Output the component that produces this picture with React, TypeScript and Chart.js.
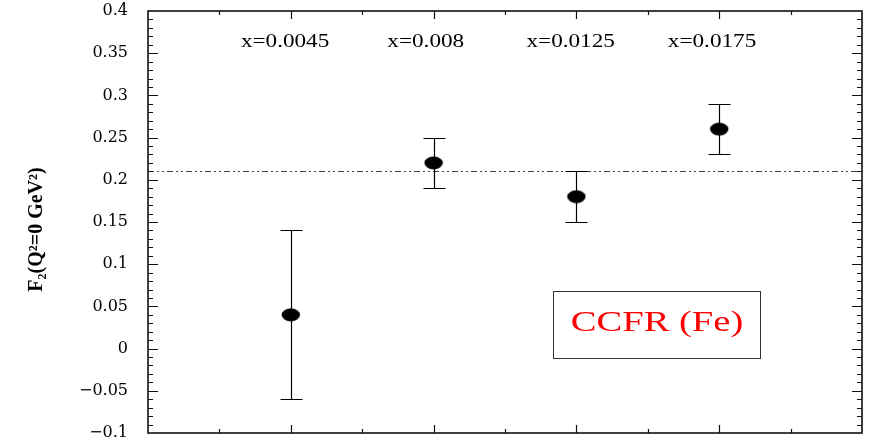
import { useEffect, useRef } from "react";
import { Chart, registerables } from "chart.js";

Chart.register(...registerables);

// ---- data ----
const xPositions = [2, 4, 6, 8];
const binLabels = ["x=0.0045", "x=0.008", "x=0.0125", "x=0.0175"];
const binLabelX = [1.92, 3.89, 5.92, 7.9];
const binLabelY = 0.363;
const f2Values = [0.04, 0.22, 0.18, 0.26];
const errLow = [-0.06, 0.19, 0.15, 0.23];
const errHigh = [0.14, 0.25, 0.21, 0.29];
const referenceLine = 0.21;
const yMin = -0.1;
const yMax = 0.4;
const yMajorStep = 0.05;
const yMinorStep = 0.01;
const xMin = 0;
const xMax = 10;
const boxText = "CCFR (Fe)";
const boxRange = { x0: 5.67, x1: 8.57, y0: 0.068, y1: -0.011 };
const axisTitle = "F\u2082(Q\u00B2=0 GeV\u00B2)";

const SERIF = "'Liberation Serif', 'Times New Roman', serif";
const WIDE_SERIF = "'DejaVu Serif', 'Liberation Serif', serif";

function makeMarker(): HTMLCanvasElement {
  const c = document.createElement("canvas");
  c.width = 20;
  c.height = 14;
  const g = c.getContext("2d")!;
  g.fillStyle = "#000";
  g.beginPath();
  g.ellipse(10, 7, 9.2, 6.4, 0, 0, Math.PI * 2);
  g.fill();
  return c;
}

function stretchedText(
  ctx: CanvasRenderingContext2D,
  text: string,
  cx: number,
  cy: number,
  font: string,
  color: string,
  sx: number
) {
  ctx.save();
  ctx.font = font;
  ctx.fillStyle = color;
  ctx.textAlign = "center";
  ctx.textBaseline = "middle";
  ctx.translate(cx, cy);
  ctx.scale(sx, 1);
  ctx.fillText(text, 0, 0);
  ctx.restore();
}

const decorPlugin = {
  id: "decor",
  beforeDatasetsDraw(chart: any) {
    const ctx: CanvasRenderingContext2D = chart.ctx;
    const xs = chart.scales.x;
    const ys = chart.scales.y;
    const ca = chart.chartArea;
    ctx.save();
    // reference dash-dot line
    ctx.strokeStyle = "#444";
    ctx.lineWidth = 1;
    ctx.setLineDash([6, 3, 2, 3, 2, 3]);
    const ry = Math.round(ys.getPixelForValue(referenceLine)) + 0.5;
    ctx.beginPath();
    ctx.moveTo(ca.left, ry);
    ctx.lineTo(ca.right, ry);
    ctx.stroke();
    ctx.setLineDash([]);

    // inner ticks y
    ctx.strokeStyle = "#111";
    ctx.lineWidth = 1.2;
    const nY = Math.round((yMax - yMin) / yMinorStep);
    const ratio = Math.round(yMajorStep / yMinorStep);
    for (let i = 1; i < nY; i++) {
      const v = yMin + i * yMinorStep;
      const py = Math.round(ys.getPixelForValue(v)) + 0.5;
      const len = i % ratio === 0 ? 10 : 5;
      ctx.beginPath();
      ctx.moveTo(ca.left, py);
      ctx.lineTo(ca.left + len, py);
      ctx.moveTo(ca.right, py);
      ctx.lineTo(ca.right - len, py);
      ctx.stroke();
    }
    // inner ticks x
    for (let i = xMin + 1; i < xMax; i++) {
      const px = Math.round(xs.getPixelForValue(i)) + 0.5;
      const len = i % 2 === 0 ? 8 : 4;
      ctx.beginPath();
      ctx.moveTo(px, ca.bottom);
      ctx.lineTo(px, ca.bottom - len);
      ctx.moveTo(px, ca.top);
      ctx.lineTo(px, ca.top + len);
      ctx.stroke();
    }

    // error bars
    ctx.strokeStyle = "#000";
    for (let i = 0; i < xPositions.length; i++) {
      const px = Math.round(xs.getPixelForValue(xPositions[i])) + 0.5;
      const pl = Math.round(ys.getPixelForValue(errLow[i])) + 0.5;
      const ph = Math.round(ys.getPixelForValue(errHigh[i])) + 0.5;
      ctx.lineWidth = 1.2;
      ctx.beginPath();
      ctx.moveTo(px, pl);
      ctx.lineTo(px, ph);
      ctx.stroke();
      ctx.lineWidth = 1;
      ctx.beginPath();
      ctx.moveTo(px - 11, pl);
      ctx.lineTo(px + 11, pl);
      ctx.moveTo(px - 11, ph);
      ctx.lineTo(px + 11, ph);
      ctx.stroke();
    }
    ctx.restore();
  },
  afterDraw(chart: any) {
    const ctx: CanvasRenderingContext2D = chart.ctx;
    const xs = chart.scales.x;
    const ys = chart.scales.y;
    const ca = chart.chartArea;
    ctx.save();
    // frame
    ctx.strokeStyle = "#111";
    ctx.lineWidth = 1.6;
    ctx.strokeRect(ca.left, ca.top, ca.right - ca.left, ca.bottom - ca.top);

    // bin labels
    for (let i = 0; i < binLabels.length; i++) {
      stretchedText(
        ctx,
        binLabels[i],
        xs.getPixelForValue(binLabelX[i]),
        ys.getPixelForValue(binLabelY),
        `19px ${SERIF}`,
        "#000",
        1.22
      );
    }

    // legend box
    const bx0 = Math.round(xs.getPixelForValue(boxRange.x0)) + 0.5;
    const bx1 = Math.round(xs.getPixelForValue(boxRange.x1)) + 0.5;
    const by0 = Math.round(ys.getPixelForValue(boxRange.y0)) + 0.5;
    const by1 = Math.round(ys.getPixelForValue(boxRange.y1)) + 0.5;
    ctx.strokeStyle = "#333";
    ctx.lineWidth = 1;
    ctx.strokeRect(bx0, by0, bx1 - bx0, by1 - by0);
    stretchedText(
      ctx,
      boxText,
      (bx0 + bx1) / 2,
      (by0 + by1) / 2 - 2,
      `29px ${SERIF}`,
      "#ff0000",
      1.33
    );
    ctx.restore();
  },
};

export default function App() {
  const ref = useRef<HTMLCanvasElement | null>(null);
  useEffect(() => {
    if (!ref.current) return;
    const marker = makeMarker();
    const chart = new Chart(ref.current, {
      type: "scatter",
      data: {
        datasets: [
          {
            data: xPositions.map((x, i) => ({ x, y: f2Values[i] })),
            pointStyle: marker as any,
            pointRadius: 9,
            backgroundColor: "#000",
            borderColor: "#000",
          },
        ],
      },
      options: {
        animation: false,
        responsive: true,
        maintainAspectRatio: false,
        layout: { autoPadding: false, padding: { top: 11, right: 7, bottom: 8, left: 0 } },
        plugins: {
          legend: { display: false },
          tooltip: { enabled: false },
        },
        scales: {
          x: {
            type: "linear",
            min: xMin,
            max: xMax,
            display: false,
          },
          y: {
            type: "linear",
            min: yMin,
            max: yMax,
            afterFit(scale: any) {
              scale.width = 148;
              scale.paddingTop = 0;
              scale.paddingBottom = 0;
            },
            grid: { display: false, drawTicks: false },
            border: { display: false },
            ticks: {
              stepSize: yMajorStep,
              padding: 20,
              color: "#000",
              font: { family: WIDE_SERIF, size: 16 },
              callback: (v: any) => {
                const n = Number(Number(v).toFixed(2));
                return n < 0 ? "\u2212" + String(-n) : String(n);
              },
            },
            title: {
              display: true,
              text: axisTitle + "\u00A0\u00A0\u00A0",
              color: "#000",
              font: { family: SERIF, size: 20, weight: "bold" },
              padding: { top: 25, bottom: 0 },
            },
          },
        },
      },
      plugins: [decorPlugin],
    });
    return () => chart.destroy();
  }, []);
  return (
    <div style={{ position: "fixed", left: 0, top: 0, width: 869, height: 441, background: "#fff" }}>
      <canvas ref={ref} />
    </div>
  );
}
